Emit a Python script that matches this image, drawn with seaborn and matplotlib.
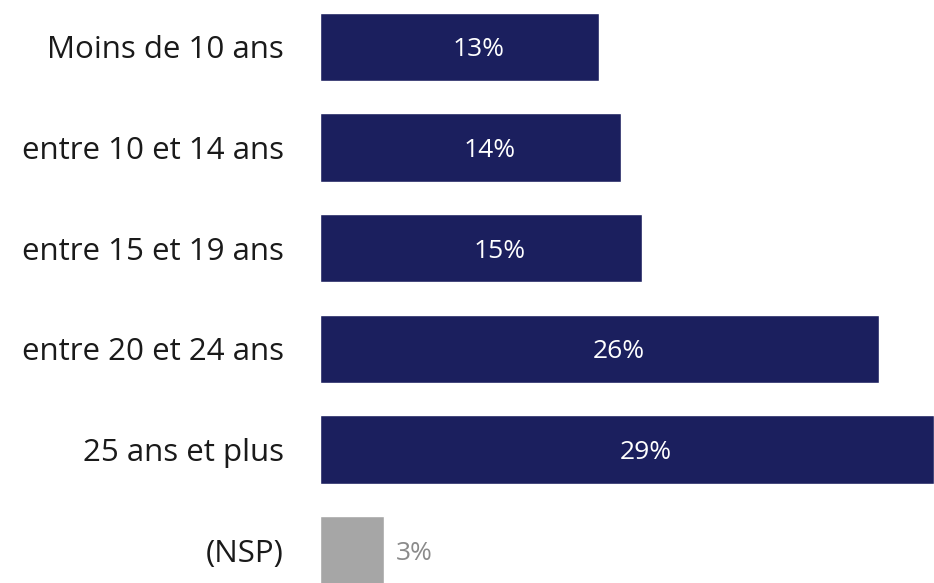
import matplotlib
matplotlib.use("Agg")
import matplotlib.pyplot as plt
import pandas as pd
import seaborn as sns

categories = ["Moins de 10 ans", "entre 10 et 14 ans", "entre 15 et 19 ans",
              "entre 20 et 24 ans", "25 ans et plus", "(NSP)"]
values = [13.2, 14.2, 15.2, 26.4, 29.0, 3.0]
labels = ["13%", "14%", "15%", "26%", "29%", "3%"]
colors = ["#1b1f5e", "#1b1f5e", "#1b1f5e", "#1b1f5e", "#1b1f5e", "#a6a6a6"]

sns.set_style("white")
plt.rcParams["font.family"] = ["Open Sans", "DejaVu Sans"]

df = pd.DataFrame({"Category": categories, "Value": values})

fig = plt.figure(figsize=(9.34, 5.83), dpi=100)
ax = fig.add_axes([320 / 934, 0, 614 / 934, 1])

sns.barplot(data=df, x="Value", y="Category", hue="Category", palette=colors,
            legend=False, width=0.68, saturation=1, ax=ax)

# value labels: inside the navy bars, outside the grey (NSP) bar
for i, (v, lab) in enumerate(zip(values, labels)):
    if categories[i] == "(NSP)":
        ax.text(v + 0.6, i + 0.03, lab, va="center", ha="left", fontsize=19,
                color="#8a8a8a")
    else:
        ax.text(v / 2 + 0.9, i + 0.03, lab, va="center", ha="center", fontsize=19,
                color="white")

ax.set_xlim(0, 29.0)
ax.set_ylim(5.327, -0.465)
ax.set_xlabel("")
ax.set_ylabel("")
ax.set_xticks([])
ax.tick_params(axis="y", length=0, pad=26, labelsize=22.5, labelcolor="#1a1a1a")
sns.despine(ax=ax, left=True, bottom=True)

fig.savefig("out.png", dpi=100)
